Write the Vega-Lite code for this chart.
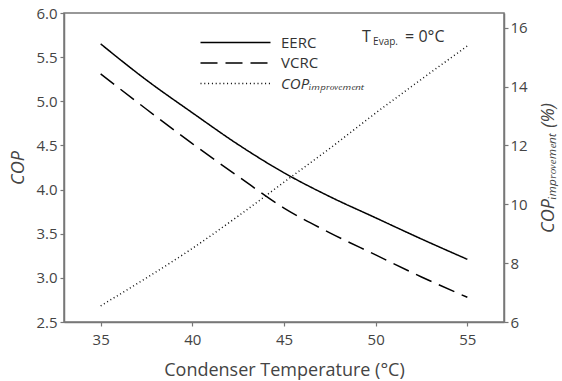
{
  "$schema": "https://vega.github.io/schema/vega-lite/v6.json",
  "width": 440,
  "height": 309,
  "autosize": {"type": "none"},
  "padding": {"left": 64, "top": 13, "right": 58, "bottom": 59},
  "background": "white",
  "config": {
    "font": "Open Sans",
    "view": {"stroke": "#777", "strokeWidth": 1.5},
    "axis": {
      "domainColor": "#777", "domainWidth": 1.5, "tickColor": "#777", "tickWidth": 1.2, "tickSize": 4,
      "labelFont": "Open Sans", "labelFontSize": 15, "labelColor": "#444",
      "titleFont": "Open Sans", "titleFontSize": 18, "titleColor": "#444", "titleFontWeight": "normal", "grid": false
    }
  },
  "datasets": {
    "cop": [
      {"T": 35, "series": "EERC", "COP": 5.65},
      {"T": 37.5, "series": "EERC", "COP": 5.24},
      {"T": 40, "series": "EERC", "COP": 4.87},
      {"T": 42.5, "series": "EERC", "COP": 4.51},
      {"T": 45, "series": "EERC", "COP": 4.19},
      {"T": 47.5, "series": "EERC", "COP": 3.92},
      {"T": 50, "series": "EERC", "COP": 3.68},
      {"T": 52.5, "series": "EERC", "COP": 3.44},
      {"T": 55, "series": "EERC", "COP": 3.21},
      {"T": 35, "series": "VCRC", "COP": 5.31},
      {"T": 37.5, "series": "VCRC", "COP": 4.91},
      {"T": 40, "series": "VCRC", "COP": 4.52},
      {"T": 42.5, "series": "VCRC", "COP": 4.15},
      {"T": 45, "series": "VCRC", "COP": 3.79},
      {"T": 47.5, "series": "VCRC", "COP": 3.51},
      {"T": 50, "series": "VCRC", "COP": 3.26},
      {"T": 52.5, "series": "VCRC", "COP": 3.01},
      {"T": 55, "series": "VCRC", "COP": 2.78}
    ],
    "imp": [
      {"T": 35, "series": "COPimp", "value": 6.55},
      {"T": 37.5, "series": "COPimp", "value": 7.5},
      {"T": 40, "series": "COPimp", "value": 8.5},
      {"T": 42.5, "series": "COPimp", "value": 9.6},
      {"T": 45, "series": "COPimp", "value": 10.75},
      {"T": 47.5, "series": "COPimp", "value": 11.9},
      {"T": 50, "series": "COPimp", "value": 13.1},
      {"T": 52.5, "series": "COPimp", "value": 14.25},
      {"T": 55, "series": "COPimp", "value": 15.38}
    ]
  },
  "layer": [
    {
      "layer": [
        {
          "data": {"name": "cop"},
          "mark": {"type": "line", "color": "black", "strokeWidth": 1.5, "interpolate": "monotone"},
          "encoding": {
            "x": {"field": "T", "type": "quantitative", "scale": {"domain": [33, 57], "nice": false},
              "axis": {"values": [35, 40, 45, 50, 55], "title": "Condenser Temperature (°C)", "titlePadding": 14, "labelPadding": 6}},
            "y": {"field": "COP", "type": "quantitative", "scale": {"domain": [2.5, 6], "nice": false, "zero": false},
              "axis": {"values": [2.5, 3, 3.5, 4, 4.5, 5, 5.5, 6], "format": ".1f", "title": "COP", "titleFontStyle": "italic", "labelPadding": 3, "titlePadding": 8}},
            "strokeDash": {"field": "series", "type": "nominal",
              "scale": {"domain": ["EERC", "VCRC", "COPimp"], "range": [[1, 0], [17, 8], [1, 2.8]]},
              "legend": {
                "orient": "none", "legendX": 164, "legendY": 22, "title": null,
                "symbolType": "M-7,0H7", "symbolSize": 100, "symbolStrokeWidth": 1.5, "symbolStrokeColor": "black",
                "labelOffset": 38, "labelFontSize": 15, "labelFont": "Open Sans", "labelColor": "#333",
                "rowPadding": 4.5, "padding": 0,
                "labelExpr": "datum.label === 'COPimp' ? 'COPᵢₘₚᵣₒᵥₑₘₑₙₜ' : datum.label",
                "encode": {"labels": {"update": {"fontStyle": {"signal": "datum.value === 'COPimp' ? 'italic' : 'normal'"}}}}
              }}
          }
        },
        {
          "data": {"values": [{}]},
          "mark": {"type": "text", "text": "T", "fontSize": 16, "align": "left", "baseline": "middle", "color": "#333"},
          "encoding": {
            "x": {"datum": 49.26, "type": "quantitative"},
            "y": {"datum": 5.73, "type": "quantitative"}
          }
        },
        {
          "data": {"values": [{}]},
          "mark": {"type": "text", "text": "Evap.", "fontSize": 10, "align": "left", "baseline": "middle", "dx": 11, "dy": 5, "color": "#333"},
          "encoding": {
            "x": {"datum": 49.26, "type": "quantitative"},
            "y": {"datum": 5.73, "type": "quantitative"}
          }
        },
        {
          "data": {"values": [{}]},
          "mark": {"type": "text", "text": "= 0°C", "fontSize": 16, "align": "left", "baseline": "middle", "dx": 43, "color": "#333"},
          "encoding": {
            "x": {"datum": 49.26, "type": "quantitative"},
            "y": {"datum": 5.73, "type": "quantitative"}
          }
        }
      ]
    },
    {
      "data": {"name": "imp"},
      "mark": {"type": "line", "color": "#111", "strokeWidth": 1.5, "interpolate": "monotone"},
      "encoding": {
        "x": {"field": "T", "type": "quantitative"},
        "y": {"field": "value", "type": "quantitative", "scale": {"domain": [6, 16.5], "nice": false, "zero": false},
          "axis": {"orient": "right", "values": [6, 8, 10, 12, 14, 16], "title": "COPᵢₘₚᵣₒᵥₑₘₑₙₜ (%)", "titleFontStyle": "italic", "titleAngle": 270, "titleBaseline": "top", "labelPadding": 2, "titlePadding": 12}},
        "strokeDash": {"field": "series", "type": "nominal"}
      }
    }
  ],
  "resolve": {"scale": {"y": "independent"}}
}
